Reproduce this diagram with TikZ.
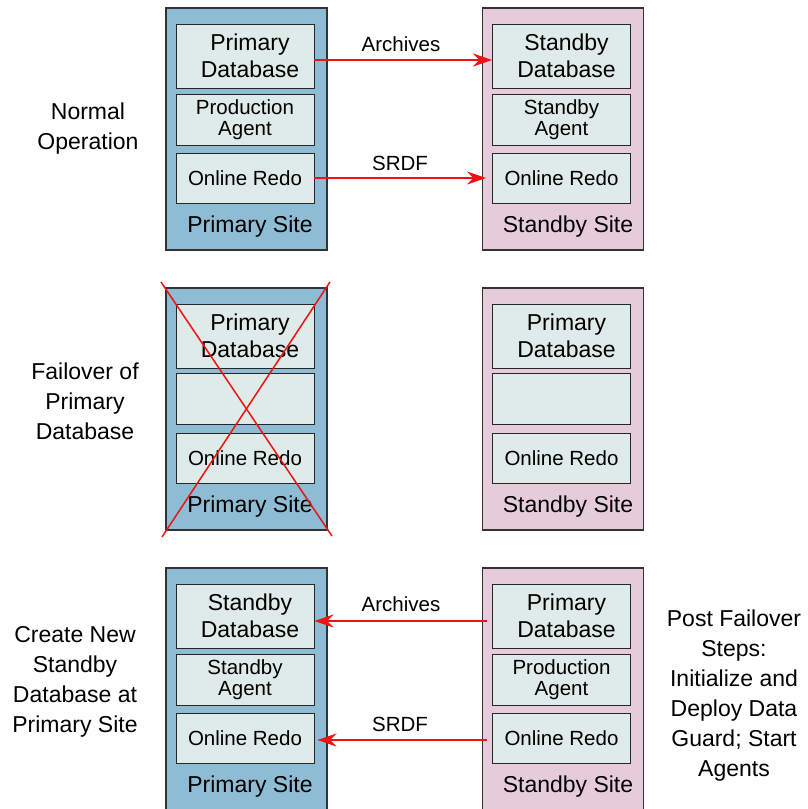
\documentclass[tikz,border=0pt]{standalone}
\usepackage{fontspec}
\setmainfont{Liberation Sans}
\usetikzlibrary{arrows.meta}
\definecolor{pblue}{RGB}{143,188,213}
\definecolor{spink}{RGB}{230,204,218}
\definecolor{inner}{RGB}{222,235,232}
\definecolor{rline}{RGB}{238,18,18}
\begin{document}
\begin{tikzpicture}[x=1pt,y=-1pt,
  outerbox/.style={draw=black!80,line width=1.2pt,minimum width=161pt,minimum height=242pt,inner sep=0pt},
  pside/.style={outerbox,fill=pblue},
  sside/.style={outerbox,fill=spink},
  box/.style={draw=black!85,line width=0.9pt,fill=inner,minimum width=138pt,inner sep=0pt,align=center},
  big/.style={font=\fontsize{23}{26.5}\selectfont},
  med/.style={font=\fontsize{20.5}{24}\selectfont},
  small/.style={font=\fontsize{20.5}{20.5}\selectfont},
  tall/.style={box,minimum height=64pt},
  mid/.style={box,minimum height=51pt},
  low/.style={box,minimum height=50pt},
  lbl/.style={align=center,font=\fontsize{23}{30}\selectfont},
  arr/.style={draw=rline,line width=1.4pt,-{Stealth[length=19pt,width=13pt]}},
  xline/.style={draw=rline,line width=1.5pt}
]
\useasboundingbox (0,0) rectangle (807,809);
% ---------- Row 1 ----------
\node[pside] (po1) at (246.5,129) {};
\node[tall,big] (p1db) at (245,56) {\hspace*{10pt}Primary\\\hspace*{10pt}Database};
\node[mid,small] (p1ag) at (245,119.5) {Production\\Agent};
\node[low,med] (p1rd) at (245,178) {Online Redo};
\node[big] (p1lb) at (250,227) {Primary Site};
\node[sside] (so1) at (563,129) {};
\node[tall,big] (s1db) at (561.5,56) {\hspace*{10pt}Standby\\\hspace*{10pt}Database};
\node[mid,small] (s1ag) at (561.5,119.5) {Standby\\Agent};
\node[low,med] (s1rd) at (561.5,178) {Online Redo};
\node[big] (s1lb) at (568,227) {Standby Site};
\draw[arr] ([yshift=-4pt]p1db.east) -- ([yshift=-4pt]s1db.west);
\draw[arr,shorten >=6pt] (p1rd.east) -- (s1rd.west);
\node[med] (a1) at (401,44) {Archives};
\node[med] (r1) at (400,163) {SRDF};
\node[lbl] (l1) at (88,129) {Normal\\Operation};
% ---------- Row 2 ----------
\node[pside] (po2) at (246.5,409) {};
\node[tall,big] (p2db) at (245,336) {\hspace*{10pt}Primary\\\hspace*{10pt}Database};
\node[mid] (p2ag) at (245,398.5) {};
\node[low,med] (p2rd) at (245,458) {Online Redo};
\node[big] (p2lb) at (250,507) {Primary Site};
\node[sside] (so2) at (563,409) {};
\node[tall,big] (s2db) at (561.5,336) {\hspace*{10pt}Primary\\\hspace*{10pt}Database};
\node[mid] (s2ag) at (561.5,398.5) {};
\node[low,med] (s2rd) at (561.5,458) {Online Redo};
\node[big] (s2lb) at (568,507) {Standby Site};
\coordinate (c1) at (161,282);
\coordinate (c2) at (332,536);
\coordinate (c3) at (330,282);
\coordinate (c4) at (162,537);
\draw[xline] (c1) -- (c2);
\draw[xline] (c3) -- (c4);
\node[lbl] (l2) at (85,401) {Failover of\\Primary\\Database};
% ---------- Row 3 ----------
\node[pside] (po3) at (246.5,689) {};
\node[tall,big] (p3db) at (245,616) {\hspace*{10pt}Standby\\\hspace*{10pt}Database};
\node[mid,small] (p3ag) at (245,679.5) {Standby\\Agent};
\node[low,med] (p3rd) at (245,738) {Online Redo};
\node[big] (p3lb) at (250,787) {Primary Site};
\node[sside] (so3) at (563,689) {};
\node[tall,big] (s3db) at (561.5,616) {\hspace*{10pt}Primary\\\hspace*{10pt}Database};
\node[mid,small] (s3ag) at (561.5,679.5) {Production\\Agent};
\node[low,med] (s3rd) at (561.5,738) {Online Redo};
\node[big] (s3lb) at (568,787) {Standby Site};
\draw[arr,shorten <=5pt] ([yshift=-5pt]s3db.west) -- ([yshift=-5pt]p3db.east);
\draw[arr,shorten <=5pt,shorten >=3pt] ([yshift=-2pt]s3rd.west) -- ([yshift=-2pt]p3rd.east);
\node[med] (a3) at (401,604) {Archives};
\node[med] (r3) at (400,724) {SRDF};
\node[lbl] (l3) at (75,682) {Create New\\Standby\\Database at\\Primary Site};
\node[lbl] (l4) at (734,696) {Post Failover\\Steps:\\Initialize and\\Deploy Data\\Guard; Start\\Agents};
\end{tikzpicture}
\end{document}
